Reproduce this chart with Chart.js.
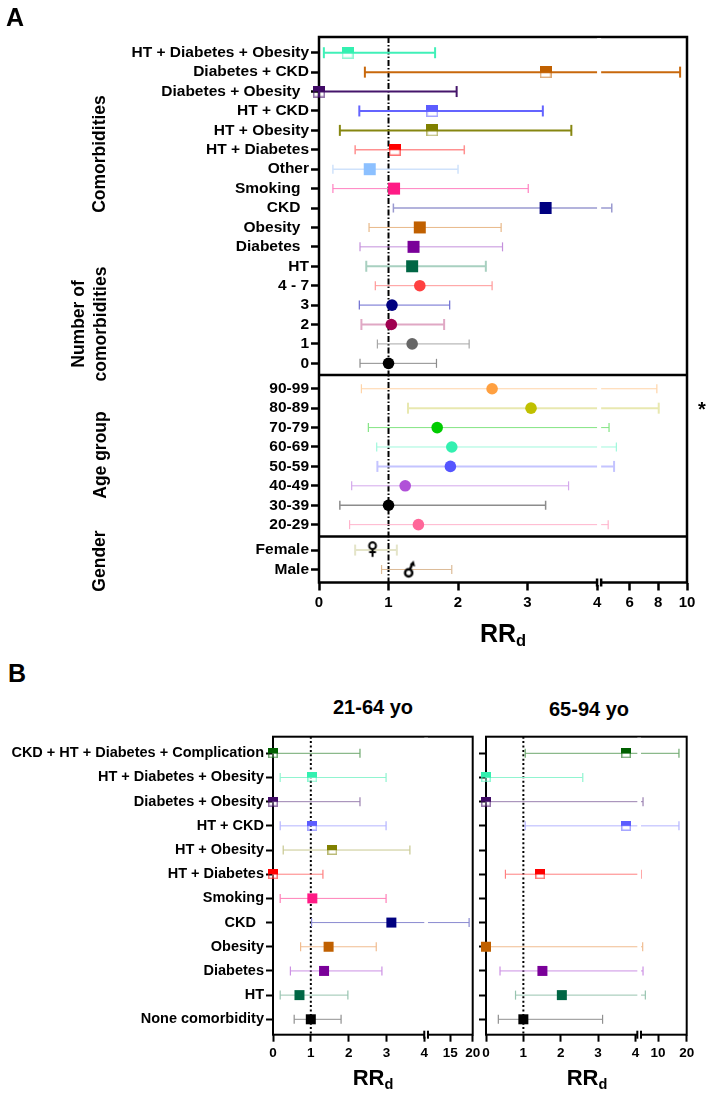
<!DOCTYPE html>
<html>
<head>
<meta charset="utf-8">
<title>RRd forest plots</title>
<script src="https://cdn.jsdelivr.net/npm/chart.js@4"></script>
<style>
  html, body { margin: 0; background: #fff; }
  #page { position: relative; width: 714px; height: 1095px; overflow: hidden; font-family: "Liberation Sans", Arial, sans-serif; font-weight: bold; color: #000; }
  canvas { position: absolute; left: 0; }
  .txt { position: absolute; transform: translate(-50%, -50%); white-space: nowrap; line-height: 1; }
  .vert { transform: translate(-50%, -50%) rotate(-90deg); font-size: 17.5px; text-align: center; }
  .rr sub { font-size: 0.66em; vertical-align: -0.28em; line-height: 0; }
</style>
</head>
<body>
<div id="page">
  <canvas id="chartA" width="714" height="625" style="top:0"></canvas>
  <canvas id="chartB1" width="714" height="370" style="top:725px"></canvas>
  <canvas id="chartB2" width="714" height="370" style="top:725px"></canvas>

  <div class="txt" style="left:15px;top:17px;font-size:25px">A</div>
  <div class="txt" style="left:17px;top:673px;font-size:25px">B</div>
  <div class="txt vert" style="left:100px;top:154px">Comorbidities</div>
  <div class="txt vert" style="left:89px;top:324px;line-height:22px">Number of<br>comorbidities</div>
  <div class="txt vert" style="left:101px;top:455px">Age group</div>
  <div class="txt vert" style="left:100px;top:561px">Gender</div>
  <div class="txt" style="left:702px;top:409px;font-size:20px">*</div>
  <div class="txt rr" style="left:503px;top:633px;font-size:25px">RR<sub>d</sub></div>
  <div class="txt" style="left:373px;top:707px;font-size:20px">21-64 yo</div>
  <div class="txt" style="left:589px;top:709px;font-size:20px">65-94 yo</div>
  <div class="txt rr" style="left:373px;top:1078px;font-size:22px">RR<sub>d</sub></div>
  <div class="txt rr" style="left:587px;top:1078px;font-size:22px">RR<sub>d</sub></div>
</div>

<script>
// panel A, rows top to bottom, grouped by section
const comorbidityLabels = ['HT + Diabetes + Obesity', 'Diabetes + CKD', 'Diabetes + Obesity  ', 'HT + CKD', 'HT + Obesity', 'HT + Diabetes', 'Other', 'Smoking  ', 'CKD  ', 'Obesity  ', 'Diabetes  ', 'HT', '4 - 7', '3', '2', '1', '0'];
const ageLabels = ['90-99', '80-89', '70-79', '60-69', '50-59', '40-49', '30-39', '20-29'];
const genderLabels = ['Female', 'Male'];
const lowA  = [0.07, 0.66, 0, 0.58, 0.30, 0.52, 0.20, 0.20, 1.07, 0.72, 0.59, 0.68, 0.81, 0.58, 0.61, 0.84, 0.59, 0.61, 1.28, 0.71, 0.83, 0.84, 0.47, 0.30, 0.44, 0.52, 0.90];
const meanA = [0.41, 3.26, 0, 1.63, 1.63, 1.09, 0.73, 1.08, 3.26, 1.45, 1.36, 1.34, 1.45, 1.05, 1.04, 1.34, 1.00, 2.49, 3.05, 1.70, 1.91, 1.89, 1.24, 1.00, 1.43, 0.77, 1.30];
const highA = [1.67, 9.52, 1.98, 3.22, 3.63, 2.09, 2.00, 3.01, 4.76, 2.62, 2.64, 2.40, 2.49, 1.88, 1.80, 2.16, 1.69, 7.90, 8.03, 4.57, 5.08, 4.92, 3.59, 3.26, 4.51, 1.12, 1.91];
const ticksA = [0, 1, 2, 3, 4, 6, 8, 10];

// panel B, both age bands share the rows
const labelsB = ['CKD + HT + Diabetes + Complication', 'HT + Diabetes + Obesity', 'Diabetes + Obesity', 'HT + CKD', 'HT + Obesity', 'HT + Diabetes', 'Smoking', 'CKD  ', 'Obesity', 'Diabetes', 'HT', 'None comorbidity'];
const lowB1  = [0, 0.19, 0, 0.19, 0.27, 0, 0.19, 1.02, 0.73, 0.46, 0.19, 0.56];
const meanB1 = [0, 1.04, 0, 1.04, 1.57, 0, 1.04, 3.13, 1.47, 1.35, 0.70, 1.00];
const highB1 = [2.30, 2.99, 2.30, 2.99, 3.62, 1.32, 2.99, 19.2, 2.73, 2.88, 1.98, 1.80];
const lowB2  = [1.05, 0, 0, 1.05, null, 0.52, null, null, 0, 0.375, 0.79, 0.33];
const meanB2 = [3.75, 0, 0, 3.75, null, 1.45, null, null, 0, 1.51, 2.03, 1.00];
const highB2 = [17.3, 2.59, 4.77, 17.3, null, 4.10, null, null, 4.65, 4.77, 5.58, 3.12];
const ticksB1 = [0, 1, 2, 3, 4, 15, 20];
const ticksB2 = [0, 1, 2, 3, 4, 10, 20];

// row styles
const markerColorsA = ['#33f0b0', '#c06000', '#400a66', '#5c5cff', '#808000', '#ff0000', '#8cc0ff', '#ff1a85', '#000080', '#c06000', '#7a0099', '#006644', '#ff4040', '#000080', '#a00050', '#666666', '#000000', '#ffa040', '#c0c000', '#00cc00', '#33f0b0', '#5555ff', '#b050d8', '#000000', '#ff6699', '#000000', '#000000'];
const whiskerColorsA = ['#40f0b8', '#c8680c', '#45156b', '#6464ff', '#868610', '#ff9090', '#cfe2fb', '#ff80c0', '#9a9ad0', '#e8b888', '#c490dc', '#a8d0c0', '#ff9898', '#6c6cd0', '#e0a8c4', '#a8a8a8', '#8c8c8c', '#ffd4a8', '#e8e8b0', '#84e484', '#a0f8dc', '#c4c4ff', '#d4a8ec', '#8c8c8c', '#ffb4cc', '#e4e4c8', '#dcbc98'];
const whiskerWidthsA = [2, 2, 2, 2, 2, 1.5, 1.5, 1, 1.5, 1, 1, 2, 1, 1, 2, 1, 1, 1, 2, 1, 1, 2, 1, 1.5, 1, 2, 1];
const markerKindsA = ['half', 'half', 'half', 'half', 'half', 'half', 'square', 'square', 'square', 'square', 'square', 'square', 'circle', 'circle', 'circle', 'circle', 'circle', 'circle', 'circle', 'circle', 'circle', 'circle', 'circle', 'circle', 'circle', 'female', 'male'];
const markerColorsB = ['#006000', '#33f0b0', '#400a66', '#5c5cff', '#808000', '#ff0000', '#ff1a85', '#000080', '#c06000', '#7a0099', '#006644', '#000000'];
const whiskerColorsB = ['#6ea86e', '#90f4d0', '#9a80b0', '#b4b4ff', '#c8c890', '#ff8080', '#ff80b8', '#8a8ad0', '#f0bc90', '#cc90e4', '#98c4b0', '#909090'];
const markerKindsB = ['half', 'half', 'half', 'half', 'half', 'half', 'square', 'square', 'square', 'square', 'square', 'square'];

// linear axis with a gap in it, the two sides have their own px per unit
class BrokenLinearScale extends Chart.LinearScale {
  static id = 'brokenLinear';
  static defaults = Chart.LinearScale.defaults;

  getPixelForValue(value) {
    if (value === null || value === undefined) return NaN;
    const { breakLow, breakHigh, fracLow, fracHigh } = this.options;
    let frac;
    if (value <= breakLow) {
      frac = (value - this.min) / (breakLow - this.min) * fracLow;
    } else if (value < breakHigh) {
      frac = fracLow + (value - breakLow) / (breakHigh - breakLow) * (fracHigh - fracLow);
    } else {
      frac = fracHigh + (value - breakHigh) / (this.max - breakHigh) * (1 - fracHigh);
    }
    return this.getPixelForDecimal(frac);
  }
}
Chart.register(BrokenLinearScale);

// frame, the white gap, section dividers and the // mark on the x axis
const framePlugin = {
  id: 'frame',
  beforeDatasetsDraw(chart, args, opts) {
    const { ctx, chartArea: a } = chart;
    ctx.save();
    ctx.strokeStyle = '#000';
    ctx.lineWidth = opts.width;
    ctx.strokeRect(a.left, a.top, a.right - a.left, a.bottom - a.top);
    ctx.restore();
  },
  afterDatasetsDraw(chart, args, opts) {
    const { ctx, chartArea: a, scales } = chart;
    const xLow = scales.x.getPixelForDecimal(scales.x.options.fracLow);
    const xHigh = scales.x.getPixelForDecimal(scales.x.options.fracHigh);
    ctx.save();
    ctx.fillStyle = '#fff';
    ctx.fillRect(xLow, a.top + opts.width / 2, xHigh - xLow, a.bottom - a.top + opts.width / 2);
    ctx.strokeStyle = '#000';
    ctx.lineWidth = opts.width;
    (opts.dividers || []).forEach(v => {
      const y = scales.y.getPixelForValue(v);
      ctx.beginPath();
      ctx.moveTo(a.left, y);
      ctx.lineTo(a.right, y);
      ctx.stroke();
    });
    [xLow, xHigh].forEach(x => {
      ctx.beginPath();
      ctx.moveTo(x, a.bottom - 4);
      ctx.lineTo(x, a.bottom + 4);
      ctx.stroke();
    });
    ctx.restore();
  }
};

function makeCanvas(w, h, draw) {
  const c = document.createElement('canvas');
  c.width = w;
  c.height = h;
  draw(c.getContext('2d'));
  return c;
}

// square with only the top half filled, the rest stays see-through
function halfSquare(color, size) {
  return makeCanvas(size, size, g => {
    g.globalAlpha = 0.55;
    g.strokeStyle = color;
    g.lineWidth = 1.5;
    g.strokeRect(0.75, 0.75, size - 1.5, size - 1.5);
    g.globalAlpha = 1;
    g.fillStyle = color;
    g.fillRect(0, 0, size, size / 2);
  });
}

function femaleSign() {
  return makeCanvas(14, 18, g => {
    g.strokeStyle = '#000';
    g.lineWidth = 2;
    g.beginPath();
    g.arc(7, 4.7, 3.4, 0, Math.PI * 2);
    g.moveTo(7, 8.1);
    g.lineTo(7, 15.7);
    g.moveTo(3.6, 11);
    g.lineTo(10.4, 11);
    g.stroke();
  });
}

function maleSign() {
  return makeCanvas(16, 24, g => {
    g.strokeStyle = '#000';
    g.lineWidth = 2.4;
    g.beginPath();
    g.arc(7.3, 15.4, 3.6, 0, Math.PI * 2);
    g.moveTo(8.6, 12);
    g.lineTo(11, 6);
    g.stroke();
    g.fillStyle = '#000';
    g.beginPath();
    g.moveTo(12.2, 3);
    g.lineTo(13.8, 9);
    g.lineTo(8.4, 7.2);
    g.fill();
  });
}

function markerStyle(kind, color, size) {
  if (kind === 'half') return { pointStyle: halfSquare(color, size), pointRadius: size / 2 };
  if (kind === 'square') return { pointStyle: 'rect', pointRadius: size * Math.SQRT1_2 };
  if (kind === 'female') return { pointStyle: femaleSign(), pointRadius: 6 };
  if (kind === 'male') return { pointStyle: maleSign(), pointRadius: 6 };
  return { pointStyle: 'circle', pointRadius: size / 2 - 0.2 };
}

// one whisker and one marker per row, plus the reference line at 1
function buildDatasets(spec) {
  const datasets = [{
    data: [{ x: 1, y: spec.yMin }, { x: 1, y: spec.yMax }],
    showLine: true,
    borderColor: '#000',
    borderWidth: 2,
    borderDash: spec.refDash,
    pointRadius: 0,
    order: 3
  }];
  spec.positions.forEach((y, i) => {
    if (spec.mean[i] === null) return;
    const width = spec.whiskerWidths ? spec.whiskerWidths[i] : 1;
    datasets.push({
      data: [{ x: spec.low[i], y }, { x: spec.high[i], y }],
      showLine: true,
      borderColor: spec.whiskerColors[i],
      borderWidth: width,
      pointStyle: 'line',
      pointRotation: 90,
      pointRadius: width >= 2 ? 5.5 : 4.5,
      pointBorderColor: spec.whiskerColors[i],
      pointBorderWidth: Math.max(width, 1.2),
      order: 2
    });
    datasets.push({
      data: [{ x: spec.mean[i], y }],
      ...markerStyle(spec.kinds[i], spec.markerColors[i], spec.markerSize),
      pointBackgroundColor: spec.markerColors[i],
      pointBorderWidth: 0,
      order: 1
    });
  });
  return datasets;
}

function forestChart(id, spec) {
  const c = document.getElementById(id);
  const zeroPadding = s => {
    s.paddingLeft = s.paddingRight = s.paddingTop = s.paddingBottom = 0;
  };
  return new Chart(c, {
    type: 'scatter',
    data: { datasets: buildDatasets(spec) },
    plugins: [framePlugin],
    options: {
      responsive: false,
      animation: false,
      events: [],
      layout: { padding: { top: spec.box.top, right: c.width - spec.box.right, left: 0, bottom: 0 } },
      datasets: { scatter: { clip: false } },
      plugins: {
        legend: { display: false },
        tooltip: { enabled: false },
        frame: { width: spec.frameWidth, dividers: spec.dividers }
      },
      scales: {
        x: {
          type: 'brokenLinear',
          min: 0,
          max: spec.xTicks[spec.xTicks.length - 1],
          ...spec.xBreak,
          afterBuildTicks: s => { s.ticks = spec.xTicks.map(value => ({ value })); },
          afterFit: s => { s.height = c.height - spec.box.bottom; zeroPadding(s); },
          border: { display: false },
          grid: { drawOnChartArea: false, tickLength: spec.tickLength, tickWidth: spec.frameWidth, tickColor: '#000' },
          ticks: {
            autoSkip: false,
            maxRotation: 0,
            padding: 3,
            color: '#000',
            font: { family: '"Liberation Sans", Arial, sans-serif', weight: 'bold', size: spec.xFontSize },
            callback: v => String(v)
          }
        },
        y: {
          type: 'linear',
          reverse: true,
          min: spec.yMin,
          max: spec.yMax,
          afterBuildTicks: s => { s.ticks = spec.positions.map(value => ({ value })); },
          afterFit: s => { s.width = spec.box.left; zeroPadding(s); },
          border: { display: false },
          grid: { drawOnChartArea: false, tickLength: spec.tickLength, tickWidth: spec.frameWidth, tickColor: '#000' },
          ticks: {
            autoSkip: false,
            padding: 2,
            color: '#000',
            font: { family: '"Liberation Sans", Arial, sans-serif', weight: 'bold', size: spec.yFontSize },
            callback: (v, i) => (spec.labels ? spec.labels[i] : '')
          }
        }
      }
    }
  });
}

// section gaps in panel A are a third of a row
const sectionGap = 0.31;
const positionsA = [
  ...comorbidityLabels.map((_, i) => i),
  ...ageLabels.map((_, i) => comorbidityLabels.length + i + sectionGap),
  ...genderLabels.map((_, i) => comorbidityLabels.length + ageLabels.length + i + 2 * sectionGap)
];
const positionsB = labelsB.map((_, i) => i);

forestChart('chartA', {
  box: { left: 319, right: 687, top: 37, bottom: 582.5 },
  labels: [...comorbidityLabels, ...ageLabels, ...genderLabels],
  positions: positionsA,
  yMin: -0.81,
  yMax: 27.29,
  dividers: [16.6, 24.92],
  low: lowA, mean: meanA, high: highA,
  markerColors: markerColorsA, whiskerColors: whiskerColorsA, whiskerWidths: whiskerWidthsA, kinds: markerKindsA,
  markerSize: 12,
  xTicks: ticksA,
  xBreak: { breakLow: 4, breakHigh: 4.02, fracLow: 0.7556, fracHigh: 0.7667 },
  refDash: [6, 2, 1.5, 2],
  frameWidth: 2.5,
  tickLength: 8,
  xFontSize: 15,
  yFontSize: 15.5
});

forestChart('chartB1', {
  box: { left: 273, right: 472.7, top: 11.7, bottom: 309.7 },
  labels: labelsB,
  positions: positionsB,
  yMin: -0.687,
  yMax: 11.637,
  low: lowB1, mean: meanB1, high: highB1,
  markerColors: markerColorsB, whiskerColors: whiskerColorsB, kinds: markerKindsB,
  markerSize: 10,
  xTicks: ticksB1,
  xBreak: { breakLow: 4, breakHigh: 10, fracLow: 0.7575, fracHigh: 0.776 },
  refDash: [2, 2.4],
  frameWidth: 2,
  tickLength: 7,
  xFontSize: 13.5,
  yFontSize: 14.5
});

forestChart('chartB2', {
  box: { left: 486, right: 686.7, top: 11.7, bottom: 309.7 },
  positions: positionsB,
  yMin: -0.687,
  yMax: 11.637,
  low: lowB2, mean: meanB2, high: highB2,
  markerColors: markerColorsB, whiskerColors: whiskerColorsB, kinds: markerKindsB,
  markerSize: 10,
  xTicks: ticksB2,
  xBreak: { breakLow: 4.05, breakHigh: 4.07, fracLow: 0.754, fracHigh: 0.7724 },
  refDash: [2, 2.4],
  frameWidth: 2,
  tickLength: 7,
  xFontSize: 13.5,
  yFontSize: 14.5
});
</script>
</body>
</html>
